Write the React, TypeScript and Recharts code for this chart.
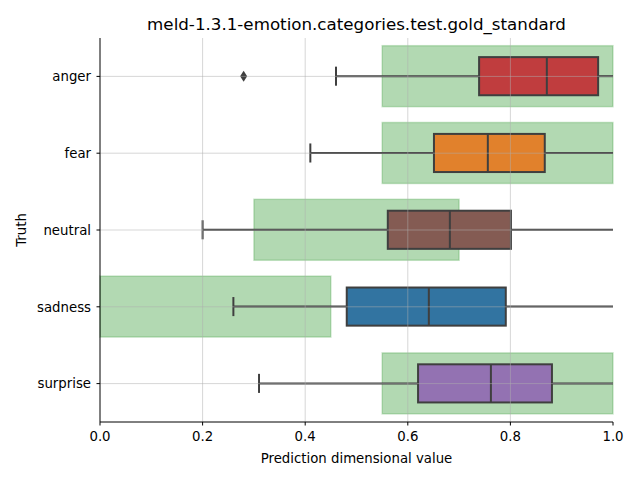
import { ComposedChart, Bar, XAxis, YAxis, ReferenceLine } from "recharts";

const categories = ["anger", "fear", "neutral", "sadness", "surprise"];

// green "gold standard" ranges
const goldLow = [0.55, 0.55, 0.3, 0.0, 0.55];
const goldHigh = [1.0, 1.0, 0.7, 0.45, 1.0];

// box plot stats
const whiskerLow = [0.46, 0.41, 0.2, 0.26, 0.31];
const q1 = [0.739, 0.651, 0.561, 0.481, 0.62];
const median = [0.871, 0.756, 0.682, 0.641, 0.762];
const q3 = [0.971, 0.867, 0.801, 0.791, 0.881];
const whiskerHigh = [1.0, 1.0, 1.0, 1.0, 1.0];
const outliers = [[0.28], [], [], [], []];

const boxColors = ["#c03d3e", "#e1812c", "#845b53", "#3274a1", "#9372b2"];

const xTicks = [0, 0.2, 0.4, 0.6, 0.8, 1.0];

const data = categories.map((name, i) => ({
  name,
  gold: [goldLow[i], goldHigh[i]],
  whiskerLow: whiskerLow[i],
  q1: q1[i],
  median: median[i],
  q3: q3[i],
  whiskerHigh: whiskerHigh[i],
  outliers: outliers[i],
  color: boxColors[i],
}));

const LINE = "#3f3f3f";

function BoxShape(props: any) {
  const { x, y, width, height, payload } = props;
  const [lo, hi] = payload.gold;
  const k = width / (hi - lo);
  const px = (v: number) => x + (v - lo) * k;
  const cy = y + height / 2;
  const boxH = (height * 0.5) / 0.8;
  const capH = boxH / 2;
  return (
    <g>
      <rect
        x={x}
        y={y}
        width={width}
        height={height}
        fill="#008000"
        fillOpacity={0.3}
        stroke="#008000"
        strokeOpacity={0.2}
        strokeWidth={1.5}
      />
      <line x1={px(payload.whiskerLow)} x2={px(payload.q1)} y1={cy} y2={cy} stroke={LINE} strokeWidth={2} />
      <line x1={px(payload.q3)} x2={px(payload.whiskerHigh)} y1={cy} y2={cy} stroke={LINE} strokeWidth={2} />
      <line
        x1={px(payload.whiskerLow)}
        x2={px(payload.whiskerLow)}
        y1={cy - capH / 2}
        y2={cy + capH / 2}
        stroke={LINE}
        strokeWidth={2}
      />
      {payload.whiskerHigh < 1 && (
        <line
          x1={px(payload.whiskerHigh)}
          x2={px(payload.whiskerHigh)}
          y1={cy - capH / 2}
          y2={cy + capH / 2}
          stroke={LINE}
          strokeWidth={2}
        />
      )}
      <rect
        x={px(payload.q1)}
        y={cy - boxH / 2}
        width={px(payload.q3) - px(payload.q1)}
        height={boxH}
        fill={payload.color}
        stroke={LINE}
        strokeWidth={2}
      />
      <line
        x1={px(payload.median)}
        x2={px(payload.median)}
        y1={cy - boxH / 2}
        y2={cy + boxH / 2}
        stroke={LINE}
        strokeWidth={2}
      />
      {payload.outliers.map((o: number, j: number) => {
        const ox = px(o);
        return (
          <path
            key={j}
            d={`M${ox},${cy - 5.5} L${ox + 3.5},${cy} L${ox},${cy + 5.5} L${ox - 3.5},${cy} Z`}
            fill={LINE}
          />
        );
      })}
    </g>
  );
}

export default function App() {
  return (
    <div
      style={{
        position: "absolute",
        left: 0,
        top: 0,
        width: 640,
        height: 480,
        background: "#fff",
        fontFamily: "DejaVu Sans",
      }}
    >
      <div
        style={{
          position: "absolute",
          left: 100,
          width: 513,
          top: 13,
          textAlign: "center",
          fontSize: 16.7,
          lineHeight: "22px",
          color: "#000",
        }}
      >
        meld-1.3.1-emotion.categories.test.gold_standard
      </div>
      <ComposedChart
        width={640}
        height={480}
        data={data}
        layout="vertical"
        margin={{ top: 38, right: 27, bottom: 0, left: 0 }}
        barCategoryGap="10%"
      >
        <XAxis
          type="number"
          domain={[0, 1]}
          ticks={xTicks}
          tickFormatter={(v: number) => v.toFixed(1)}
          height={58}
          tickSize={3.5}
          tickMargin={6}
          axisLine={{ stroke: "#000", strokeWidth: 1 }}
          tickLine={{ stroke: "#000" }}
          tick={{ fill: "#000", fontSize: 13.3 }}
          label={{ value: "Prediction dimensional value", position: "insideBottom", offset: 17, fill: "#000", fontSize: 13.3 }}
        />
        <YAxis
          type="category"
          dataKey="name"
          width={100}
          tickSize={3.5}
          tickMargin={5.5}
          axisLine={{ stroke: "#000", strokeWidth: 1 }}
          tickLine={{ stroke: "#000" }}
          tick={{ fill: "#000", fontSize: 13.3 }}
          label={{
            content: (p: any) => {
              const vb = p.viewBox;
              const cx = vb.x + 21;
              const cy = vb.y + vb.height / 2;
              return (
                <text
                  x={cx}
                  y={cy}
                  transform={`rotate(-90 ${cx} ${cy})`}
                  textAnchor="middle"
                  dominantBaseline="central"
                  fill="#000"
                  fontSize={13.3}
                >
                  Truth
                </text>
              );
            },
          }}
        />
        <Bar dataKey="gold" shape={BoxShape} isAnimationActive={false} />
        {xTicks.slice(1, 5).map((t) => (
          <ReferenceLine key={t} x={t} stroke="#b0b0b0" strokeOpacity={0.5} strokeWidth={1} />
        ))}
        {categories.map((c) => (
          <ReferenceLine key={c} y={c} stroke="#b0b0b0" strokeOpacity={0.5} strokeWidth={1} />
        ))}
      </ComposedChart>
    </div>
  );
}
